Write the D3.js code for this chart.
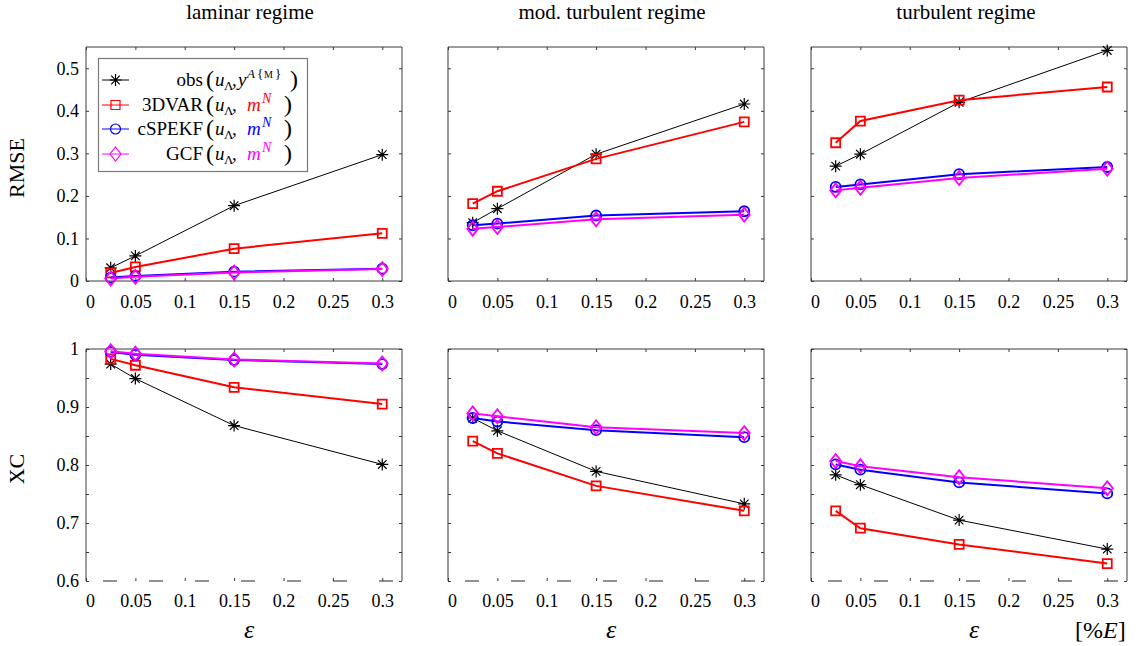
<!DOCTYPE html>
<html>
<head>
<meta charset="utf-8">
<script src="https://cdn.jsdelivr.net/npm/d3@7"></script>
<style>
  body { margin: 0; background: #fff; }
  svg, svg text { font-family: "Liberation Serif", "DejaVu Serif", serif; }
</style>
</head>
<body>
<div class="chart"></div>
<script>
var svgWidth = 1136;
var svgHeight = 646;
var serif = "'Liberation Serif', 'DejaVu Serif', serif";

// data
var eps = [0.025, 0.05, 0.15, 0.3];
var regimes = ["laminar regime", "mod. turbulent regime", "turbulent regime"];
var xTicks = [0, 0.05, 0.1, 0.15, 0.2, 0.25, 0.3];
var rmseTicks = [0, 0.1, 0.2, 0.3, 0.4, 0.5];
var xcTicks = [0.6, 0.65, 0.7, 0.75, 0.8, 0.85, 0.9, 0.95, 1];

// RMSE, one row per regime
var rmseObs    = [[0.031, 0.059, 0.177, 0.297], [0.137, 0.170, 0.298, 0.416], [0.270, 0.298, 0.420, 0.542]];
var rmse3dvar  = [[0.019, 0.033, 0.076, 0.112], [0.182, 0.211, 0.287, 0.374], [0.325, 0.376, 0.425, 0.456]];
var rmseSpekf  = [[0.008, 0.012, 0.022, 0.029], [0.131, 0.135, 0.154, 0.164], [0.221, 0.227, 0.251, 0.268]];
var rmseGcf    = [[0.006, 0.010, 0.020, 0.028], [0.123, 0.127, 0.145, 0.156], [0.213, 0.219, 0.242, 0.264]];

// XC, one row per regime
var xcObs   = [[0.974, 0.949, 0.868, 0.801], [0.881, 0.859, 0.789, 0.733], [0.783, 0.766, 0.705, 0.655]];
var xc3dvar = [[0.983, 0.972, 0.934, 0.905], [0.841, 0.820, 0.764, 0.721], [0.721, 0.691, 0.663, 0.630]];
var xcSpekf = [[0.995, 0.990, 0.981, 0.974], [0.881, 0.875, 0.860, 0.848], [0.801, 0.792, 0.770, 0.751]];
var xcGcf   = [[0.996, 0.992, 0.982, 0.975], [0.889, 0.884, 0.865, 0.855], [0.807, 0.798, 0.779, 0.760]];

var seriesNames = ["obs", "3DVAR", "cSPEKF", "GCF"];
var seriesColors = ["#000000", "#ff0000", "#0000ff", "#ff00ff"];
var seriesMarkers = ["star", "square", "circle", "diamond"];

// layout
var cols = [[86, 402], [448, 764], [811, 1127]];
var rows = [[47, 281], [349, 581]];
var axisColor = "#3a3a3a";

var svg = d3.select(".chart")
  .append("svg")
  .attr("width", svgWidth)
  .attr("height", svgHeight);

function markerPath(type) {
  if (type == "star") {
    var r = 6, d = 4.3;
    return `M${-r},0L${r},0M0,${-r}L0,${r}M${-d},${-d}L${d},${d}M${-d},${d}L${d},${-d}`;
  }
  if (type == "square") return "M-4.5,-4.5H4.5V4.5H-4.5Z";
  if (type == "diamond") return "M0,-7L5.5,0L0,7L-5.5,0Z";
  return "M5,0A5,5 0 1,1 -5,0A5,5 0 1,1 5,0Z";
}

function drawPanel(r, c) {
  var x = d3.scaleLinear().domain([0, 0.32]).range(cols[c]);
  var y = r == 0
    ? d3.scaleLinear().domain([0, 0.55]).range([rows[0][1], rows[0][0]])
    : d3.scaleLinear().domain([0.6, 1]).range([rows[1][1], rows[1][0]]);
  var g = svg.append("g");
  var x0 = cols[c][0], x1 = cols[c][1], y0 = rows[r][0], y1 = rows[r][1];

  var fmt = d => String(+d.toFixed(2));

  // bottom axis with labels
  var bottom = g.append("g")
    .attr("transform", `translate(0, ${y1})`)
    .call(d3.axisBottom(x).tickValues(xTicks).tickSizeInner(-3).tickSizeOuter(0)
      .tickPadding(r == 0 ? 14 : 13).tickFormat(fmt));
  bottom.selectAll("text").filter(d => d == 0).attr("x", 4);

  // top axis, ticks only
  g.append("g")
    .attr("transform", `translate(0, ${y0})`)
    .call(d3.axisTop(x).tickValues(xTicks).tickSizeInner(-3).tickSizeOuter(0).tickFormat(""));

  var yTicks = r == 0 ? rmseTicks : xcTicks;
  g.append("g")
    .attr("transform", `translate(${x0}, 0)`)
    .call(d3.axisLeft(y).tickValues(yTicks).tickSizeInner(-3).tickSizeOuter(0).tickPadding(7)
      .tickFormat(d => {
        if (c > 0) return "";
        if (r == 1 && Math.abs(d * 10 - Math.round(d * 10)) > 1e-6) return "";
        return fmt(d);
      }));

  g.append("g")
    .attr("transform", `translate(${x1}, 0)`)
    .call(d3.axisRight(y).tickValues(yTicks).tickSizeInner(-3).tickSizeOuter(0).tickFormat(""));

  g.selectAll(".domain").remove();
  g.selectAll(".tick line").attr("stroke", axisColor);
  g.selectAll("g").attr("font-family", serif);
  g.selectAll(".tick text")
    .attr("font-family", serif)
    .attr("font-size", 18)
    .attr("fill", "#000");

  // box
  g.append("path")
    .attr("d", `M${x0},${y1}V${y0}H${x1}V${y1}`)
    .attr("fill", "none")
    .attr("stroke", axisColor)
    .attr("stroke-width", 1);
  var bl = g.append("line")
    .attr("x1", x0).attr("x2", x1).attr("y1", y1).attr("y2", y1)
    .attr("stroke", axisColor).attr("stroke-width", 1);
  if (r == 1) {
    bl.attr("stroke-dasharray", "14 32").attr("stroke-dashoffset", 29).attr("stroke", "#222");
  }

  var sets = r == 0
    ? [rmseObs[c], rmse3dvar[c], rmseSpekf[c], rmseGcf[c]]
    : [xcObs[c], xc3dvar[c], xcSpekf[c], xcGcf[c]];

  var line = d3.line().x((d, i) => x(eps[i])).y(d => y(d));

  sets.forEach(function(vals, s) {
    g.append("path")
      .datum(vals)
      .attr("d", line)
      .attr("fill", "none")
      .attr("stroke", seriesColors[s])
      .attr("stroke-width", s == 0 ? 1 : 2);
    g.selectAll(null)
      .data(vals)
      .enter()
      .append("path")
      .attr("transform", (d, i) => `translate(${x(eps[i])}, ${y(d)})`)
      .attr("d", markerPath(seriesMarkers[s]))
      .attr("fill", "none")
      .attr("stroke", seriesColors[s])
      .attr("stroke-width", s == 0 ? 1.2 : 1.8);
  });
}

for (var r = 0; r < 2; r++) {
  for (var c = 0; c < 3; c++) drawPanel(r, c);
}

// titles
var titleX = [250, 612, 966];
regimes.forEach(function(t, i) {
  svg.append("text")
    .attr("x", titleX[i]).attr("y", 19)
    .attr("text-anchor", "middle")
    .attr("font-family", serif)
    .attr("font-size", 21)
    .text(t);
  svg.append("text")
    .attr("x", (cols[i][0] + cols[i][1]) / 2 + 5).attr("y", 638)
    .attr("text-anchor", "middle")
    .attr("font-family", serif)
    .attr("font-size", 26)
    .attr("font-style", "italic")
    .text("ε");
});

var unit = svg.append("text")
  .attr("x", 1075).attr("y", 638)
  .attr("font-family", serif)
  .attr("font-size", 24);
unit.append("tspan").text("[%");
unit.append("tspan").attr("font-style", "italic").text("E");
unit.append("tspan").text("]");

// y axis labels
svg.append("text")
  .attr("transform", "translate(24, 168) rotate(-90)")
  .attr("text-anchor", "middle")
  .attr("font-family", serif)
  .attr("font-size", 22)
  .text("RMSE");
svg.append("text")
  .attr("transform", "translate(24, 469) rotate(-90)")
  .attr("text-anchor", "middle")
  .attr("font-family", serif)
  .attr("font-size", 22)
  .text("XC");

// legend
var legend = svg.append("g").attr("font-family", serif);
legend.append("rect")
  .attr("x", 98.5).attr("y", 58.5)
  .attr("width", 209).attr("height", 113)
  .attr("fill", "#fff")
  .attr("stroke", "#7a7a7a")
  .attr("stroke-width", 1.2);

var rowY = [80, 105, 129, 154];
seriesNames.forEach(function(name, s) {
  var yy = rowY[s];
  legend.append("line")
    .attr("x1", 102).attr("x2", 129).attr("y1", yy).attr("y2", yy)
    .attr("stroke", seriesColors[s]).attr("stroke-width", 1);
  legend.append("path")
    .attr("transform", `translate(115.5, ${yy})`)
    .attr("d", markerPath(seriesMarkers[s]))
    .attr("fill", "none")
    .attr("stroke", seriesColors[s])
    .attr("stroke-width", 1.2);
  legend.append("text")
    .attr("x", 203).attr("y", yy + 6)
    .attr("text-anchor", "end")
    .attr("font-size", 19)
    .text(name);

  var t = legend.append("text").attr("y", yy + 6).attr("font-size", 19);
  t.append("tspan").attr("x", 206).attr("font-size", 24).attr("dy", 1).text("(");
  t.append("tspan").attr("x", 215).attr("dy", -1).attr("font-style", "italic").text("u");
  t.append("tspan").attr("x", 224).attr("dy", 4).attr("font-size", 13).text("Λ");
  t.append("tspan").attr("x", 232).attr("dy", -4).text(",");
  var clr = s == 0 ? "#000" : seriesColors[s];
  if (s == 0) {
    t.append("tspan").attr("x", 238).attr("font-style", "italic").text("y");
    t.append("tspan").attr("x", 247).attr("dy", -8).attr("font-size", 13).attr("font-style", "italic").text("A");
    t.append("tspan").attr("x", 257).attr("font-size", 13).text("{");
    t.append("tspan").attr("x", 264).attr("font-size", 10).text("M");
    t.append("tspan").attr("x", 275).attr("font-size", 13).text("}");
    t.append("tspan").attr("x", 290).attr("dy", 9).attr("font-size", 24).text(")");
  } else {
    t.append("tspan").attr("x", 247).attr("font-style", "italic").attr("fill", clr).text("m");
    t.append("tspan").attr("x", 262).attr("dy", -8).attr("font-size", 14).attr("font-style", "italic").attr("fill", clr).text("N");
    t.append("tspan").attr("x", 284).attr("dy", 9).attr("font-size", 24).text(")");
  }
});
</script>
</body>
</html>
